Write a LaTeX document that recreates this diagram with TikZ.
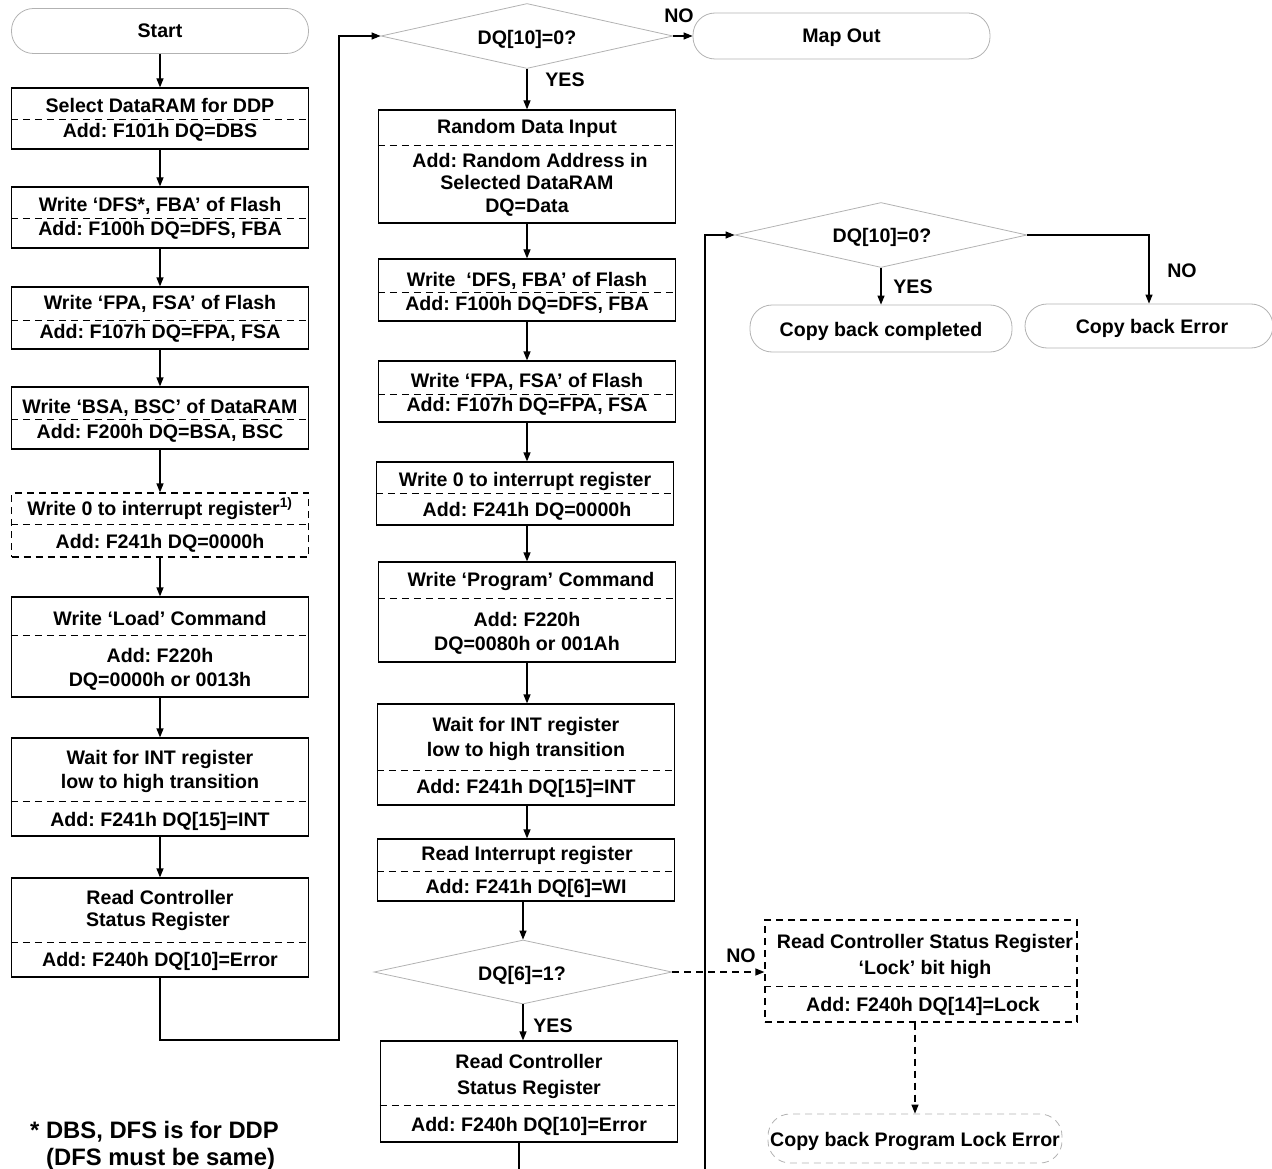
\documentclass[tikz,border=0pt]{standalone}
\usepackage{fontspec}
\setmainfont{Liberation Sans}
\usetikzlibrary{arrows.meta,shapes.geometric}
\frenchspacing
\tikzset{
  box/.style={draw, line width=1.2pt, rectangle, inner sep=0pt, minimum width=297pt},
  dbox/.style={box, dash pattern=on 7pt off 5pt},
  term/.style={draw=gray!60, line width=0.8pt, rectangle, rounded corners=22pt, inner sep=0pt},
  dterm/.style={term, dash pattern=on 7pt off 5pt},
  dia/.style={diamond, draw=gray!60, line width=0.8pt, inner sep=0pt, minimum width=292pt, minimum height=65pt},
  sepline/.style={line width=0.8pt, dash pattern=on 7pt off 5pt},
  arr/.style={line width=1.2pt, -{Triangle[length=9pt,width=7pt]}},
  darr/.style={arr, dash pattern=on 7pt off 5pt},
  plain/.style={line width=1.2pt},
  txt/.style={font=\bfseries\fontsize{19.6}{23}\selectfont\frenchspacing, inner sep=0pt, text height=14pt, text depth=0pt},
  foot/.style={font=\bfseries\fontsize{23.8}{28}\selectfont\frenchspacing, inner sep=0pt, anchor=west, text height=17pt, text depth=0pt}
}
\newcommand\tx[4]{\node[txt] (#1) at (#2,#3) {#4};}
\begin{document}
\begin{tikzpicture}[x=1pt,y=-1pt]
\useasboundingbox (0,0) rectangle (1272,1169);

% ---------- column 1 ----------
\node[term, minimum width=297pt, minimum height=45pt] (start) at (160,31) {};
\tx{tstart}{160}{31}{Start}

\node[box, minimum height=61pt] (b1) at (160,118.5) {};
\draw[sepline] (b1.west |- 0,119) -- (b1.east |- 0,119);
\tx{t1a}{160}{106}{Select DataRAM for DDP}
\tx{t1b}{160}{131}{Add: F101h DQ=DBS}

\node[box, minimum height=61pt] (b2) at (160,217.5) {};
\draw[sepline] (b2.west |- 0,218) -- (b2.east |- 0,218);
\tx{t2a}{160}{205}{Write ‘DFS*, FBA’ of Flash}
\tx{t2b}{160}{229}{Add: F100h DQ=DFS, FBA}

\node[box, minimum height=62pt] (b3) at (160,318) {};
\draw[sepline] (b3.west |- 0,320) -- (b3.east |- 0,320);
\tx{t3a}{160}{302}{Write ‘FPA, FSA’ of Flash}
\tx{t3b}{160}{331}{Add: F107h DQ=FPA, FSA}

\node[box, minimum height=62pt] (b4) at (160,418) {};
\draw[sepline] (b4.west |- 0,419) -- (b4.east |- 0,419);
\tx{t4a}{160}{406}{Write ‘BSA, BSC’ of DataRAM}
\tx{t4b}{160}{431}{Add: F200h DQ=BSA, BSC}

\node[dbox, minimum height=64pt] (b5) at (160,525) {};
\draw[sepline] (b5.west |- 0,524) -- (b5.east |- 0,524);
\tx{t5a}{160}{508}{Write 0 to interrupt register\textsuperscript{1)}}
\tx{t5b}{160}{541}{Add: F241h DQ=0000h}

\node[box, minimum height=100pt] (b6) at (160,647) {};
\draw[sepline] (b6.west |- 0,635) -- (b6.east |- 0,635);
\tx{t6a}{160}{618}{Write ‘Load’ Command}
\tx{t6b}{160}{655}{Add: F220h}
\tx{t6c}{160}{679}{DQ=0000h or 0013h}

\node[box, minimum height=98pt] (b7) at (160,787) {};
\draw[sepline] (b7.west |- 0,801) -- (b7.east |- 0,801);
\tx{t7a}{160}{757}{Wait for INT register}
\tx{t7b}{160}{781}{low to high transition}
\tx{t7c}{160}{819}{Add: F241h DQ[15]=INT}

\node[box, minimum height=99pt] (b8) at (160,927.5) {};
\draw[sepline] (b8.west |- 0,942) -- (b8.east |- 0,942);
\tx{t8a}{160}{897}{Read Controller}
\tx{t8b}{158}{919}{Status Register}
\tx{t8c}{160}{959}{Add: F240h DQ[10]=Error}

\draw[arr] (start) -- (b1);
\draw[arr] (b1) -- (b2);
\draw[arr] (b2) -- (b3);
\draw[arr] (b3) -- (b4);
\draw[arr] (b4) -- (b5);
\draw[arr] (b5) -- (b6);
\draw[arr] (b6) -- (b7);
\draw[arr] (b7) -- (b8);

% ---------- column 2 ----------
\node[dia] (d1) at (527,36) {};
\tx{td1}{527}{38}{DQ[10]=0?}

\node[term, minimum width=297pt, minimum height=46pt] (mapout) at (841.5,36) {};
\tx{tmap}{841.5}{36}{Map Out}

\coordinate (c1) at (339,1040);
\draw[arr] (b8.south) |- (c1) |- (d1.west);
\draw[arr] (d1.east) -- (mapout.west);
\tx{lno1}{679}{16}{NO}

\node[box, minimum height=113pt] (rdi) at (527,166.5) {};
\draw[sepline] (rdi.west |- 0,145) -- (rdi.east |- 0,145);
\tx{t9a}{527}{127}{Random Data Input}
\tx{t9b}{530}{161}{Add: Random Address in}
\tx{t9c}{527}{183}{Selected DataRAM}
\tx{t9d}{527}{206}{DQ=Data}
\draw[arr] (d1.south) -- (rdi.north);
\tx{lyes1}{565}{80}{YES}

\node[box, minimum height=62pt] (b10) at (527,290) {};
\draw[sepline] (b10.west |- 0,292) -- (b10.east |- 0,292);
\tx{t10a}{527}{279}{Write \ ‘DFS, FBA’ of Flash}
\tx{t10b}{527}{303}{Add: F100h DQ=DFS, FBA}

\node[box, minimum height=61pt] (b11) at (527,391.5) {};
\draw[sepline] (b11.west |- 0,394) -- (b11.east |- 0,394);
\tx{t11a}{527}{380}{Write ‘FPA, FSA’ of Flash}
\tx{t11b}{527}{404}{Add: F107h DQ=FPA, FSA}

\node[box, minimum height=63pt] (b12) at (525,493.5) {};
\draw[sepline] (b12.west |- 0,493) -- (b12.east |- 0,493);
\tx{t12a}{525}{479}{Write 0 to interrupt register}
\tx{t12b}{527}{509}{Add: F241h DQ=0000h}

\node[box, minimum height=100pt] (b13) at (527,612) {};
\draw[sepline] (b13.west |- 0,598) -- (b13.east |- 0,598);
\tx{t13a}{531}{579}{Write ‘Program’ Command}
\tx{t13b}{527}{619}{Add: F220h}
\tx{t13c}{527}{643}{DQ=0080h or 001Ah}

\node[box, minimum height=101pt] (b14) at (526,754.5) {};
\draw[sepline] (b14.west |- 0,770) -- (b14.east |- 0,770);
\tx{t14a}{526}{724}{Wait for INT register}
\tx{t14b}{526}{749}{low to high transition}
\tx{t14c}{526}{786}{Add: F241h DQ[15]=INT}

\node[box, minimum height=62pt] (b15) at (526,870) {};
\draw[sepline] (b15.west |- 0,871) -- (b15.east |- 0,871);
\tx{t15a}{527}{853}{Read Interrupt register}
\tx{t15b}{526}{886}{Add: F241h DQ[6]=WI}

\node[dia, minimum width=298pt, minimum height=64pt] (d2) at (523,972) {};
\tx{td2}{522}{973}{DQ[6]=1?}

\node[box, minimum height=101pt] (rc) at (529,1091.5) {};
\draw[sepline] (rc.west |- 0,1105) -- (rc.east |- 0,1105);
\tx{t16a}{529}{1061}{Read Controller}
\tx{t16b}{529}{1087}{Status Register}
\tx{t16c}{529}{1124}{Add: F240h DQ[10]=Error}
\tx{lyes2}{553}{1025}{YES}

\draw[arr] (rdi.south) -- (b10.north);
\draw[arr] (b10.south) -- (b11.north);
\draw[arr] (b11.south) -- (b12.north -| b11.south);
\draw[arr] (b12.south -| b11.south) -- (b13.north);
\draw[arr] (b13.south) -- (b14.north -| b13.south);
\draw[arr] (b14.south -| b13.south) -- (b15.north -| b13.south);
\draw[arr] (b15.south -| d2.north) -- (d2.north);
\draw[arr] (d2.south) -- (rc.north -| d2.south);
\coordinate (c3) at (519,1169);
\draw[plain] (rc.south -| c3) -- (c3);

% ---------- right side ----------
\node[dia] (d3) at (881,235) {};
\tx{td3}{882}{236}{DQ[10]=0?}

\node[term, minimum width=262pt, minimum height=47pt] (cbc) at (881,328.5) {};
\tx{tcbc}{881}{329}{Copy back completed}

\node[term, minimum width=248pt, minimum height=44pt] (cbe) at (1149,326) {};
\tx{tcbe}{1152}{326}{Copy back Error}

\coordinate (c2) at (705,1169);
\draw[arr] (c2) |- (d3.west);
\draw[arr] (d3.south) -- (cbc.north);
\draw[arr] (d3.east) -| (cbe.north);
\tx{lyes3}{913}{287}{YES}
\tx{lno3}{1182}{270}{NO}

\node[dbox, minimum width=312pt, minimum height=102pt] (lock) at (921,971) {};
\draw[sepline] (lock.west |- 0,986) -- (lock.east |- 0,986);
\tx{t17a}{925}{941}{Read Controller Status Register}
\tx{t17b}{925}{967}{‘Lock’ bit high}
\tx{t17c}{923}{1004}{Add: F240h DQ[14]=Lock}

\node[dterm, minimum width=294pt, minimum height=49pt] (lockerr) at (915,1138.5) {};
\tx{tle}{915}{1139}{Copy back Program Lock Error}

\draw[darr] (d2.east) -- (d2.east -| lock.west);
\draw[darr] (lock.south -| lockerr.north) -- (lockerr.north);
\tx{lno2}{741}{955}{NO}

% ---------- footnote ----------
\node[foot] (f1) at (30,1130) {* DBS, DFS is for DDP};
\node[foot] (f2) at (46,1157) {(DFS must be same)};
\end{tikzpicture}
\end{document}
